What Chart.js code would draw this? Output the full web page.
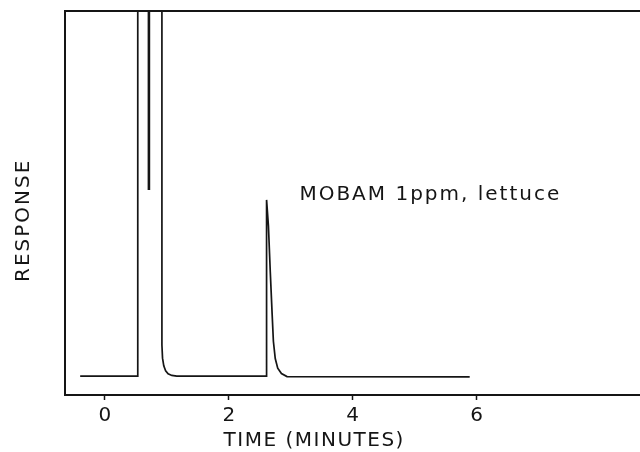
<!DOCTYPE html>
<html>
<head>
<meta charset="utf-8">
<script src="https://cdn.jsdelivr.net/npm/chart.js@4.4.1/dist/chart.umd.min.js"></script>
<style>
  html, body { margin: 0; padding: 0; background: #fff; overflow: hidden; }
  #wrap { width: 640px; height: 452px; }
</style>
</head>
<body>
<div id="wrap"><canvas id="gc"></canvas></div>
<script>
// chromatogram trace, time in minutes, response in arbitrary units (100 = off scale)
const traceTime = [-0.40, 0.53, 0.53, null, 0.92, 0.92, 0.93, 0.95, 0.98, 1.02, 1.08, 1.16, 2.61, 2.61, 2.64, 2.67, 2.70, 2.72, 2.75, 2.79, 2.85, 2.94, 5.89];
const traceResponse = [4.9, 4.9, 100, null, 100, 13, 9.6, 7.6, 6.3, 5.5, 5.1, 4.9, 4.9, 50.8, 44, 32, 21, 14, 9.5, 7, 5.6, 4.8, 4.7];

// thin solvent spike hanging from the top
const spikeTime = [0.71, 0.71];
const spikeResponse = [100, 53.4];

const xTicks = [0, 2, 4, 6];
const peakLabel = 'MOBAM 1ppm, lettuce';
const xTitle = 'TIME (MINUTES)';
const yTitle = 'RESPONSE';

const ink = '#151515';
const font = 'DejaVu Sans';

function toPoints(xs, ys) {
  return xs.map((x, i) => ({ x: x, y: ys[i] }));
}

// text + top border of the frame
const annotations = {
  id: 'annotations',
  afterDraw(chart) {
    const { ctx, chartArea, scales } = chart;
    ctx.save();
    ctx.strokeStyle = ink;
    ctx.lineWidth = 2;
    ctx.beginPath();
    ctx.moveTo(chartArea.left, chartArea.top);
    ctx.lineTo(chartArea.right, chartArea.top);
    ctx.stroke();

    ctx.fillStyle = ink;
    ctx.textBaseline = 'middle';
    ctx.font = `20px "${font}"`;
    ctx.letterSpacing = '2px';
    ctx.textAlign = 'left';
    ctx.fillText(peakLabel, scales.x.getPixelForValue(3.14), scales.y.getPixelForValue(52.2));

    ctx.letterSpacing = '1.5px';
    ctx.textAlign = 'center';
    ctx.fillText(xTitle, scales.x.getPixelForValue(3.38), 441);

    ctx.translate(24, scales.y.getPixelForValue(45.5));
    ctx.rotate(-Math.PI / 2);
    ctx.letterSpacing = '2px';
    ctx.fillText(yTitle, 0, 0);
    ctx.restore();
  }
};

new Chart(document.getElementById('gc'), {
  type: 'scatter',
  data: {
    datasets: [
      {
        data: toPoints(traceTime, traceResponse),
        showLine: true,
        spanGaps: false,
        borderColor: ink,
        borderWidth: 1.7,
        pointRadius: 0,
        tension: 0
      },
      {
        data: toPoints(spikeTime, spikeResponse),
        showLine: true,
        borderColor: ink,
        borderWidth: 2.6,
        pointRadius: 0
      }
    ]
  },
  options: {
    responsive: true,
    maintainAspectRatio: false,
    animation: false,
    layout: { padding: { top: 11, left: 65, right: -2, bottom: 20 } },
    plugins: {
      legend: { display: false },
      tooltip: { enabled: false }
    },
    scales: {
      x: {
        type: 'linear',
        min: -0.645,
        max: 8.64,
        afterBuildTicks: (scale) => {
          scale.ticks = xTicks.map(v => ({ value: v }));
        },
        ticks: {
          color: ink,
          font: { family: font, size: 20 },
          padding: 4,
          maxRotation: 0
        },
        grid: {
          drawOnChartArea: false,
          tickLength: 5,
          tickColor: ink,
          tickWidth: 1.5
        },
        border: { color: ink, width: 2 }
      },
      y: {
        min: 0,
        max: 100,
        ticks: { display: false },
        grid: { display: false, drawTicks: false },
        border: { color: ink, width: 2 }
      }
    }
  },
  plugins: [annotations]
});
</script>
</body>
</html>
